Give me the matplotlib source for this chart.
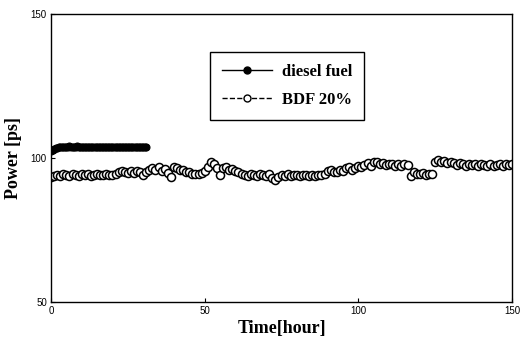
import numpy as np
import matplotlib
matplotlib.use('Agg')
from matplotlib import pyplot as plt
from matplotlib.lines import Line2D

# diesel fuel, read every half hour
diesel_time = np.arange(0, 31.5, 0.5)
diesel_power = [
    102.5, 102.8, 103.1, 103.4, 103.5, 103.7, 103.8, 103.8, 103.9, 104.0,
    104.0, 103.9, 104.1, 104.0, 104.0, 103.9, 104.0, 104.1, 104.0, 103.9,
    103.9, 104.0, 103.8, 103.9, 103.8, 103.8, 103.7, 103.8, 103.9, 103.8,
    103.7, 103.8, 103.9, 103.8, 103.8, 103.9, 103.7, 103.8, 103.9, 103.8,
    103.8, 103.9, 103.8, 103.9, 104.0, 103.9, 103.8, 103.9, 103.9, 103.8,
    103.9, 103.9, 103.8, 103.9, 104.0, 103.9, 103.8, 103.9, 103.9, 103.8,
    103.9, 104.0, 103.9,
]

# BDF 20%, read every hour
bdf_time = np.arange(0, 151, 1)
bdf_power = [
    93.5, 93.8, 94.2, 93.6, 94.5, 94.0, 93.7, 94.6, 94.1, 93.8,
    94.4, 94.0, 94.6, 93.9, 94.2, 94.5, 94.0, 94.1, 94.3, 94.0,
    94.2, 94.6, 95.2, 95.6, 95.0, 94.8, 95.4, 94.7, 95.5, 95.0,
    94.2, 95.0, 95.8, 96.5, 96.0, 96.8, 95.6, 96.3, 94.8, 93.4,
    97.0, 96.6, 96.0, 95.8, 95.3, 95.0, 94.6, 94.3, 94.5, 94.8,
    95.6, 96.8, 98.7, 97.8, 96.6, 94.2, 96.4, 97.0, 95.8, 96.3,
    95.5, 95.0, 94.4, 94.0, 93.7, 94.5, 94.2, 93.6, 94.3, 94.0,
    93.8, 94.6, 93.2, 92.3, 93.4, 94.0, 93.8, 94.4, 93.9, 94.1,
    94.0, 93.6, 94.2, 94.0, 93.8, 94.1, 93.9, 94.2, 94.0, 94.5,
    95.4, 95.8, 95.2, 95.0, 96.0, 95.5, 96.4, 96.8, 96.0, 96.6,
    97.2, 96.8, 97.6, 98.2, 97.4, 98.6, 98.8, 98.0, 98.4, 97.6,
    97.8, 98.0, 97.4, 97.8, 97.2, 98.0, 97.6, 93.6, 95.0, 94.6,
    94.4, 94.8, 94.2, 94.6, 94.5, 98.6, 99.2, 98.8, 99.0, 98.4,
    98.8, 98.2, 97.6, 98.4, 97.8, 97.4, 98.0, 97.6, 97.8, 97.4,
    98.0, 97.6, 97.4, 97.8, 97.3, 97.6, 97.8, 97.2, 98.0, 97.6,
    97.8,
]

x_ticks = [0, 50, 100, 150]
y_ticks = [50, 100, 150]

serif = ['Liberation Serif', 'DejaVu Serif']

fig = plt.figure(figsize=(5.28, 3.53), dpi=100)
ax = fig.add_axes([0.0966, 0.1445, 0.8731, 0.8155])

ax.plot(diesel_time, diesel_power, linestyle='none', marker='o',
        markersize=5.0, color='black', markeredgewidth=0.8)
ax.plot(bdf_time, bdf_power, linestyle='none', marker='o',
        markersize=5.8, markerfacecolor='white', markeredgecolor='black',
        markeredgewidth=1.1)

ax.set_xlim(0, 150)
ax.set_ylim(50, 150)
ax.set_xticks(x_ticks)
ax.set_yticks(y_ticks)
ax.tick_params(direction='in', length=3, width=0.8, labelsize=7,
               pad=3)
for lab in ax.get_xticklabels() + ax.get_yticklabels():
    lab.set_family('Liberation Sans')
for s in ax.spines.values():
    s.set_linewidth(1.0)

ax.set_xlabel('Time[hour]', family=serif, fontweight='bold', fontsize=13,
              labelpad=3)
ax.set_ylabel('Power [ps]', family=serif, fontweight='bold', fontsize=13,
              labelpad=6)

handles = [
    Line2D([], [], color='black', linestyle='-', linewidth=1.0, marker='o',
           markersize=5, markerfacecolor='black'),
    Line2D([], [], color='black', linestyle='--', linewidth=1.0, marker='o',
           markersize=5, markerfacecolor='white'),
]
leg = ax.legend(handles, ['diesel fuel', 'BDF 20%'], loc='upper left',
                bbox_to_anchor=(0.345, 0.868), frameon=True, fancybox=False,
                framealpha=1, edgecolor='black', handlelength=3.0,
                handletextpad=0.6, borderpad=0.7, labelspacing=0.75,
                borderaxespad=0,
                prop={'family': serif, 'weight': 'bold', 'size': 12})
leg.get_frame().set_linewidth(1.0)

fig.savefig('out.png', dpi=100)
